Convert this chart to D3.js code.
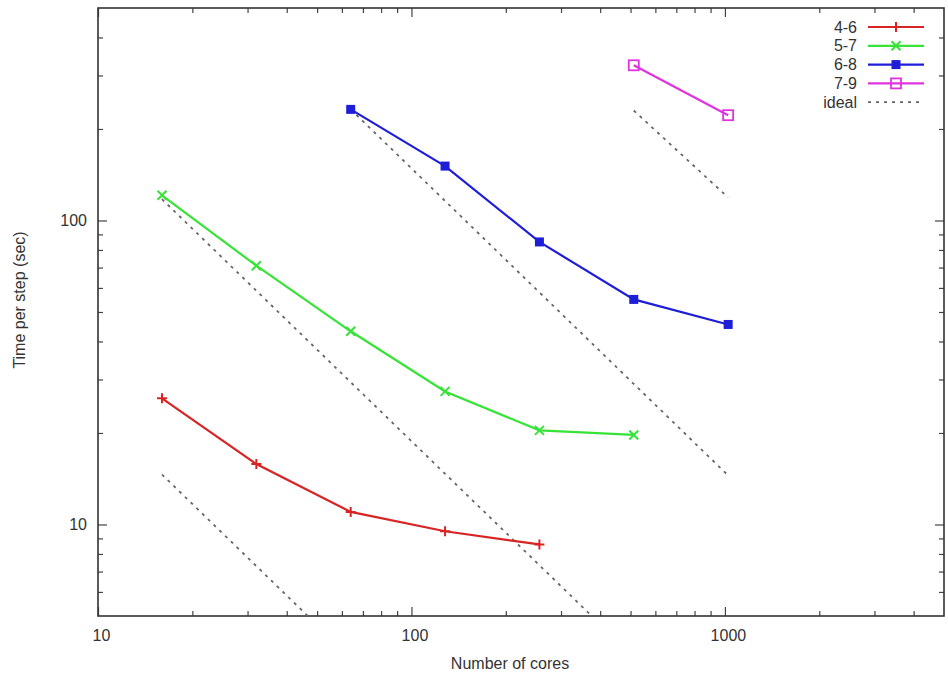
<!DOCTYPE html>
<html>
<head>
<meta charset="utf-8">
<script src="https://cdn.jsdelivr.net/npm/d3@7"></script>
<style>
  body { margin: 0; background: #fff; }
  svg { font-family: "Liberation Sans", Arial, sans-serif; }
</style>
</head>
<body>
<div id="chart"></div>
<script>
// measured run times per step, by mesh level range
var seriesNames = ["4-6", "5-7", "6-8", "7-9"];
var cores46 = [16, 32, 64, 128, 256];
var time46 = [26.0, 15.8, 11.0, 9.5, 8.6];
var cores57 = [16, 32, 64, 128, 256, 512];
var time57 = [121, 71, 43.2, 27.4, 20.4, 19.7];
var cores68 = [64, 128, 256, 512, 1024];
var time68 = [232, 151, 85, 55, 45.5];
var cores79 = [512, 1024];
var time79 = [324, 222];

// ideal scaling guides, start and end points
var idealCores = [[16, 46.7], [16, 376], [64, 1024], [512, 1024]];
var idealTimes = [[14.6, 5], [117.5, 5], [232, 14.5], [230, 119]];

var xMajor = [10, 100, 1000];
var xMinor = [20, 30, 40, 50, 60, 70, 80, 90, 200, 300, 400, 500, 600, 700, 800, 900, 2000, 3000, 4000];
var yMajor = [10, 100];
var yMinor = [6, 7, 8, 9, 20, 30, 40, 50, 60, 70, 80, 90, 200, 300, 400];

var width = 948, height = 679;
var plotLeft = 98, plotRight = 944, plotTop = 8, plotBottom = 616;
var fontSize = 16;

var colors = ["#d82424", "#36e336", "#1e1ed8", "#e033e0"];
var shapes = ["plus", "cross", "square", "box"];

var svg = d3.select("#chart").append("svg")
    .attr("width", width)
    .attr("height", height);

var x = d3.scaleLog().domain([10, 5000]).range([plotLeft, plotRight]);
var y = d3.scaleLog().domain([5, 500]).range([plotBottom, plotTop]);

svg.append("clipPath").attr("id", "plot")
  .append("rect")
    .attr("x", plotLeft).attr("y", plotTop)
    .attr("width", plotRight - plotLeft).attr("height", plotBottom - plotTop);

// axes, gnuplot style: ticks inside, mirrored on opposite sides
function ticks(axis, pos, vals, size, labels) {
    var g = svg.append("g")
        .attr("transform", pos)
        .call(axis.tickValues(vals).tickSize(size).tickSizeOuter(0)
            .tickFormat(labels ? d3.format("d") : ""));
    g.select(".domain").remove();
    g.selectAll("line").attr("stroke", "#444").attr("stroke-width", 1.2);
    g.selectAll("text").attr("fill", "#333").attr("font-size", fontSize);
    return g;
}

var bx = ticks(d3.axisBottom(x), "translate(0," + plotBottom + ")", xMajor, -9, true);
bx.selectAll("text").attr("y", 14).attr("dy", "0.71em").attr("dx", 3);
ticks(d3.axisBottom(x), "translate(0," + plotBottom + ")", xMinor, -5, false);
ticks(d3.axisTop(x), "translate(0," + plotTop + ")", xMajor, -9, false);
ticks(d3.axisTop(x), "translate(0," + plotTop + ")", xMinor, -5, false);

var ly = ticks(d3.axisLeft(y), "translate(" + plotLeft + ",0)", yMajor, -9, true);
ly.selectAll("text").attr("x", -11);
ticks(d3.axisLeft(y), "translate(" + plotLeft + ",0)", yMinor, -5, false);
ticks(d3.axisRight(y), "translate(" + plotRight + ",0)", yMajor, -9, false);
ticks(d3.axisRight(y), "translate(" + plotRight + ",0)", yMinor, -5, false);

svg.append("rect")
    .attr("x", plotLeft).attr("y", plotTop)
    .attr("width", plotRight - plotLeft).attr("height", plotBottom - plotTop)
    .attr("fill", "none")
    .attr("stroke", "#333")
    .attr("stroke-width", 1.6);

svg.append("text")
    .attr("x", 510)
    .attr("y", 669)
    .attr("text-anchor", "middle")
    .attr("font-size", fontSize)
    .attr("fill", "#333")
    .text("Number of cores");

svg.append("text")
    .attr("transform", "translate(25,300) rotate(-90)")
    .attr("text-anchor", "middle")
    .attr("font-size", fontSize)
    .attr("fill", "#333")
    .text("Time per step (sec)");

var line = d3.line()
    .x(function(d) { return x(d[0]); })
    .y(function(d) { return y(d[1]); });

// ideal lines
var plot = svg.append("g").attr("clip-path", "url(#plot)");
idealCores.forEach(function(c, i) {
    plot.append("path")
        .attr("d", line(d3.zip(c, idealTimes[i])))
        .attr("fill", "none")
        .attr("stroke", "#666")
        .attr("stroke-width", 1.8)
        .attr("stroke-dasharray", "3,5");
});

function marker(g, shape, color, cx, cy) {
    if (shape == "plus") {
        g.append("path")
            .attr("d", "M" + (cx - 5) + "," + cy + "h10M" + cx + "," + (cy - 5) + "v10")
            .attr("stroke", color).attr("stroke-width", 2);
    } else if (shape == "cross") {
        g.append("path")
            .attr("d", "M" + (cx - 4.5) + "," + (cy - 4.5) + "l9,9M" + (cx - 4.5) + "," + (cy + 4.5) + "l9,-9")
            .attr("stroke", color).attr("stroke-width", 2);
    } else if (shape == "square") {
        g.append("rect")
            .attr("x", cx - 4.5).attr("y", cy - 4.5)
            .attr("width", 9).attr("height", 9)
            .attr("fill", color);
    } else {
        g.append("rect")
            .attr("x", cx - 5).attr("y", cy - 5)
            .attr("width", 10).attr("height", 10)
            .attr("fill", "none")
            .attr("stroke", color).attr("stroke-width", 1.8);
    }
}

var allCores = [cores46, cores57, cores68, cores79];
var allTimes = [time46, time57, time68, time79];

allCores.forEach(function(c, i) {
    var pts = d3.zip(c, allTimes[i]);
    var g = plot.append("g");
    g.append("path")
        .attr("d", line(pts))
        .attr("fill", "none")
        .attr("stroke", colors[i])
        .attr("stroke-width", 2.2);
    pts.forEach(function(p) {
        marker(g, shapes[i], colors[i], x(p[0]), y(p[1]));
    });
});

// legend
var legend = svg.append("g");
var legendNames = seriesNames.concat(["ideal"]);
legendNames.forEach(function(name, i) {
    var ry = 27 + i * 18.8;
    legend.append("text")
        .attr("x", 857)
        .attr("y", ry)
        .attr("dy", "0.35em")
        .attr("text-anchor", "end")
        .attr("font-size", fontSize)
        .attr("fill", "#333")
        .text(name);
    if (i < 4) {
        legend.append("line")
            .attr("x1", 868).attr("x2", 924)
            .attr("y1", ry).attr("y2", ry)
            .attr("stroke", colors[i]).attr("stroke-width", 2.2);
        marker(legend, shapes[i], colors[i], 896, ry);
    } else {
        legend.append("line")
            .attr("x1", 868).attr("x2", 924)
            .attr("y1", ry).attr("y2", ry)
            .attr("stroke", "#666").attr("stroke-width", 1.8)
            .attr("stroke-dasharray", "3,5");
    }
});
</script>
</body>
</html>
